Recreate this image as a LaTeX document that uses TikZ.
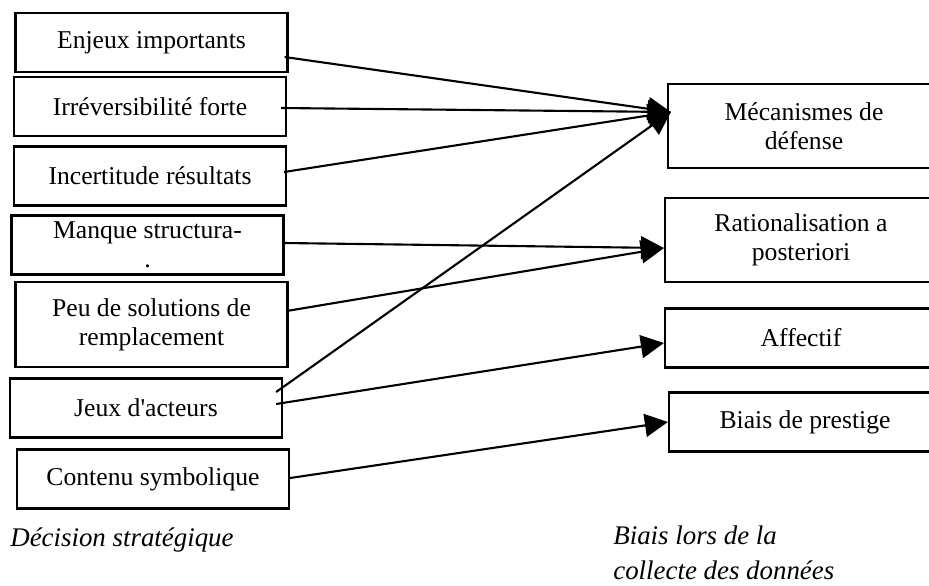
\documentclass[tikz,border=0pt]{standalone}
\usepackage{fontspec}
\setmainfont{Liberation Serif}
\usetikzlibrary{arrows.meta,calc}

\begin{document}
\begin{tikzpicture}
[x=0.02cm, y=-0.02cm,
cause/.style={draw, line width=1.3pt, minimum width=5.44cm, minimum height=1.18cm, align=center, inner sep=0pt, font=\fontsize{14.6}{16.5}\selectfont},
bias/.style={cause},
tall/.style={minimum height=1.68cm},
link/.style={line width=1.2pt, -{Triangle[length=0.46cm, width=0.46cm]}},
caption/.style={anchor=west, align=left, inner sep=0pt, font=\fontsize{15.3}{20}\selectfont\itshape}]
\useasboundingbox (0,0) rectangle (929,585);
\node[cause] (enjeux) at (151.5,42.5) {Enjeux importants};
\node[cause] (irreversibilite) at (150,106.5) {Irréversibilité forte};
\node[cause] (incertitude) at (150,176) {Incertitude résultats};
\node[cause] (manque) at (147.5,245) {Manque structura-\\.};
\node[cause, minimum height=1.7cm] (peu) at (151.5,324.5) {Peu de solutions de\\remplacement};
\node[cause] (jeux) at (146,408) {Jeux d\textquotesingle acteurs};
\node[cause] (contenu) at (153,479) {Contenu symbolique};
\node[caption] (decision) at (10,540) {Décision stratégique};
\node[bias, tall] (mecanismes) at (804,126) {Mécanismes de\\défense};
\node[bias, tall] (rationalisation) at (801,240) {Rationalisation a\\posteriori};
\node[bias] (affectif) at (801,338) {Affectif};
\node[bias] (prestige) at (805,422) {Biais de prestige};
\node[caption] (collecte) at (613,553) {Biais lors de la\\collecte des données};
\draw[link] ($(enjeux.east)+(-4,14.5)$) -- ($(mecanismes.west)+(4,-14)$);
\draw[link] ($(irreversibilite.east)+(-6,1.5)$) -- ($(mecanismes.west)+(4,-14)$);
\draw[link] ($(incertitude.east)+(-3,-4)$) -- ($(mecanismes.west)+(4,-14)$);
\draw[link] ($(jeux.east)+(-7,-16)$) -- ($(mecanismes.west)+(4,-14)$);
\draw[link] ($(manque.east)+(0,-2)$) -- ($(rationalisation.west)+(0,8)$);
\draw[link] ($(peu.east)+(-2,-13.5)$) -- ($(rationalisation.west)+(0,8)$);
\draw[link] ($(jeux.east)+(-7,-4)$) -- ($(affectif.west)+(0,5)$);
\draw[link] ($(contenu.east)+(0,-1)$) -- (prestige.west);
\end{tikzpicture}
\end{document}
